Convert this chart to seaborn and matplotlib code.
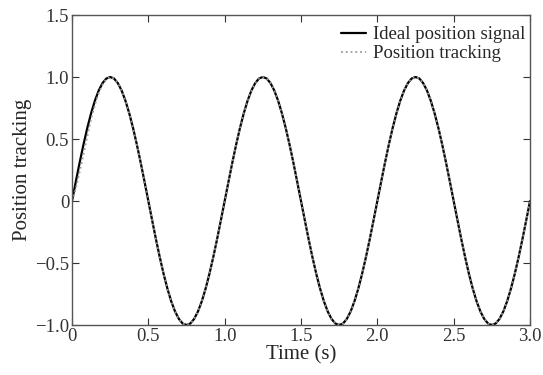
import numpy as np
import pandas as pd
import seaborn as sns
import matplotlib.pyplot as plt

# time samples (s), every 0.025 s
time = np.round(np.arange(0, 121) * 0.025, 3)

ideal = [
    0.000, 0.156, 0.309, 0.454, 0.588, 0.707, 0.809, 0.891, 0.951, 0.988,
    1.000, 0.988, 0.951, 0.891, 0.809, 0.707, 0.588, 0.454, 0.309, 0.156,
    0.000, -0.156, -0.309, -0.454, -0.588, -0.707, -0.809, -0.891, -0.951, -0.988,
    -1.000, -0.988, -0.951, -0.891, -0.809, -0.707, -0.588, -0.454, -0.309, -0.156,
    0.000, 0.156, 0.309, 0.454, 0.588, 0.707, 0.809, 0.891, 0.951, 0.988,
    1.000, 0.988, 0.951, 0.891, 0.809, 0.707, 0.588, 0.454, 0.309, 0.156,
    0.000, -0.156, -0.309, -0.454, -0.588, -0.707, -0.809, -0.891, -0.951, -0.988,
    -1.000, -0.988, -0.951, -0.891, -0.809, -0.707, -0.588, -0.454, -0.309, -0.156,
    0.000, 0.156, 0.309, 0.454, 0.588, 0.707, 0.809, 0.891, 0.951, 0.988,
    1.000, 0.988, 0.951, 0.891, 0.809, 0.707, 0.588, 0.454, 0.309, 0.156,
    0.000, -0.156, -0.309, -0.454, -0.588, -0.707, -0.809, -0.891, -0.951, -0.988,
    -1.000, -0.988, -0.951, -0.891, -0.809, -0.707, -0.588, -0.454, -0.309, -0.156,
    0.000,
]

# tracking lags a little at the start, then follows the ideal signal
tracking = [
    0.000, 0.100, 0.235, 0.375, 0.520, 0.660, 0.775, 0.872, 0.940, 0.985,
    1.000, 0.988, 0.951, 0.891, 0.809, 0.707, 0.588, 0.454, 0.309, 0.156,
    0.000, -0.156, -0.309, -0.454, -0.588, -0.707, -0.809, -0.891, -0.951, -0.988,
    -1.000, -0.988, -0.951, -0.891, -0.809, -0.707, -0.588, -0.454, -0.309, -0.156,
    0.000, 0.156, 0.309, 0.454, 0.588, 0.707, 0.809, 0.891, 0.951, 0.988,
    1.000, 0.988, 0.951, 0.891, 0.809, 0.707, 0.588, 0.454, 0.309, 0.156,
    0.000, -0.156, -0.309, -0.454, -0.588, -0.707, -0.809, -0.891, -0.951, -0.988,
    -1.000, -0.988, -0.951, -0.891, -0.809, -0.707, -0.588, -0.454, -0.309, -0.156,
    0.000, 0.156, 0.309, 0.454, 0.588, 0.707, 0.809, 0.891, 0.951, 0.988,
    1.000, 0.988, 0.951, 0.891, 0.809, 0.707, 0.588, 0.454, 0.309, 0.156,
    0.000, -0.156, -0.309, -0.454, -0.588, -0.707, -0.809, -0.891, -0.951, -0.988,
    -1.000, -0.988, -0.951, -0.891, -0.809, -0.707, -0.588, -0.454, -0.309, -0.156,
    0.000,
]

xticks = [0, 0.5, 1.0, 1.5, 2.0, 2.5, 3.0]
xticklabels = ['0', '0.5', '1.0', '1.5', '2.0', '2.5', '3.0']
yticks = [-1.0, -0.5, 0, 0.5, 1.0, 1.5]
yticklabels = ['\u22121.0', '\u22120.5', '0', '0.5', '1.0', '1.5']

df = pd.DataFrame({'t': time, 'ideal': ideal, 'tracking': tracking})

sns.set_style('ticks')
plt.rcParams['font.family'] = ['Liberation Serif', 'DejaVu Serif']

fig = plt.figure(figsize=(5.43, 3.75), dpi=100)
ax = fig.add_axes([0.1326, 0.1333, 0.8435, 0.8267])

sns.lineplot(data=df, x='t', y='ideal', ax=ax, color='black', linewidth=1.6,
             label='Ideal position signal')
sns.lineplot(data=df, x='t', y='tracking', ax=ax, color='#9a9a9a', linewidth=1.3,
             linestyle=':', label='Position tracking')

ax.set_xlim(0, 3.0)
ax.set_ylim(-1.0, 1.5)
ax.set_xticks(xticks)
ax.set_xticklabels(xticklabels)
ax.set_yticks(yticks)
ax.set_yticklabels(yticklabels)
ax.tick_params(direction='in', top=True, right=True, labelsize=13.5, length=5,
               width=0.8, colors='#333333', pad=2)
for s in ax.spines.values():
    s.set_color('#555555')
    s.set_linewidth(1.0)

ax.set_xlabel('Time (s)', fontsize=15, labelpad=0)
ax.set_ylabel('Position tracking', fontsize=15, labelpad=2)

leg = ax.legend(loc='upper right', bbox_to_anchor=(1.015, 1.0), frameon=False,
                fontsize=13.5, handlelength=1.3, handletextpad=0.4,
                labelspacing=0.1, borderaxespad=0.2)

plt.savefig('out.png', dpi=100)
